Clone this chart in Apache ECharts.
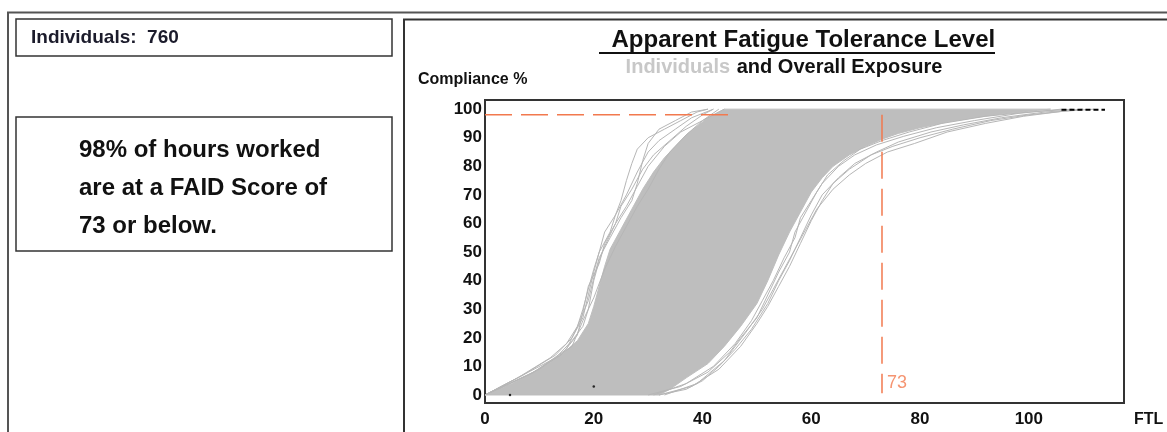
<!DOCTYPE html>
<html><head><meta charset="utf-8">
<script src="https://cdn.jsdelivr.net/npm/echarts@6/dist/echarts.min.js"></script>
<style>html,body{margin:0;padding:0;background:#fff}#c{width:1167px;height:432px}</style>
</head><body><div id="c"></div>
<script>
// ---- data ----
const xTicks = [0, 20, 40, 60, 80, 100];
const yTicks = [0, 10, 20, 30, 40, 50, 60, 70, 80, 90, 100];
const individualsCount = 760;
const ftlScore = 73;
const compliancePct = 98;

// dense envelope of the individual curves: left (upper) edge, bottom -> top
const denseLeftEdge = [[0,0],[5,4],[10,9],[14,14],[17,19],[19,25],[20,31],[21,38],[22,45],[23,51],[25,58],[27,65],[29,72],[31,78],[33,83],[35,87],[37,91],[39,94],[41,97],[44,100]];
// top edge and right (lower) edge, top -> bottom
const denseRightEdge = [[104,100],[100,99.3],[95,98.3],[90,97],[85,95.5],[80,93.5],[76,91.5],[73,89.5],[70,87],[67,84],[64,80],[62,76],[60,71],[58,64],[56,57],[54,49],[52,40],[50,32],[47,24],[44,17],[41,11],[37,6],[34,2],[32,0]];

// individual outlying curves
const indivL1 = [[0,0],[6,6],[12,13],[15,18],[17,24],[18,30],[19,37],[20,44],[21,50],[23,57],[24,63],[25,68],[26,75],[27,81],[28,86],[30,90],[33,93],[36,96],[39,99],[41,100]];
const indivL2 = [[0,0],[7,7],[13,14],[16,20],[18,27],[19,35],[20,43],[21,50],[22,57],[24,63],[26,70],[28,78],[30,85],[32,89],[35,93],[38,97],[42,100]];
const indivL3 = [[0,0],[8,7],[14,14],[17,21],[18,29],[19,38],[21,46],[22,53],[24,60],[26,66],[28,73],[30,80],[33,87],[36,92],[40,96],[43,100]];
const indivL4 = [[0,0],[9,8],[15,16],[17,24],[19,33],[20,41],[21,48],[23,55],[25,62],[27,68],[28,74],[29,82],[30,88],[32,93],[35,96],[38,99],[41,100]];
const indivL5 = [[0,0],[10,9],[16,17],[18,26],[20,34],[22,44],[24,52],[26,59],[28,66],[30,72],[32,79],[34,85],[37,91],[40,96],[44,100]];
const indivL6 = [[0,0],[8,8],[13,13],[16,19],[18,24],[19,30],[20,40],[21,47],[22,52],[24,60],[25,66],[27,72],[29,79],[31,84],[34,89],[37,94],[40,98],[42,100]];
const indivR1 = [[30,0],[36,3],[41,8],[45,15],[47,20],[50,27],[52,35],[54,43],[56,50],[57,57],[59,64],[61,71],[63,77],[66,82],[69,86],[73,89],[78,92],[84,95],[92,97.5],[100,99],[108,100]];
const indivR2 = [[31,0],[37,4],[42,10],[46,18],[49,26],[51,33],[53,40],[55,48],[57,55],[58,62],[60,68],[62,74],[65,80],[68,84],[72,87.5],[77,90.5],[83,93.5],[90,96],[98,98.5],[106,100]];
const indivR3 = [[32,0],[38,3],[43,9],[47,17],[50,25],[52,31],[54,38],[56,45],[58,53],[60,61],[62,68],[64,74],[67,79],[71,84],[75,87],[80,90],[86,93],[93,96],[100,98],[108,99.6]];
const indivR4 = [[33,0],[39,4],[44,12],[48,22],[51,30],[53,37],[55,44],[57,51],[59,58],[61,65],[64,72],[67,77],[70,81],[74,85],[79,88],[85,92],[92,95],[99,97.5],[106,99.2],[112,100]];
const indivR5 = [[32,0],[37,2],[40,5],[43,10],[46,16],[49,23],[52,32],[54,40],[56,47],[58,55],[60,63],[62,70],[65,76],[68,81],[72,85],[76,88.5],[82,92],[88,94.5],[95,97],[103,99],[110,100]];

// overall exposure (mostly hidden) and stray points
const overallVisible = [[106,99.8],[114,99.8]];
const strayPoints = [[4.6,0],[20,3]];

// reference lines
const refHorizontal = [[0, compliancePct],[45, compliancePct]];
const refVertical = [[ftlScore, compliancePct],[ftlScore, 0.6]];
const refLabelPoint = [[ftlScore, 4.2]];

// ---- chart ----
const FONT = 'Liberation Sans, Arial, sans-serif';
const ORANGE = '#f2794e';
const GRAY = '#bebebe';
const bandPoints = denseLeftEdge.concat(denseRightEdge);

const chart = echarts.init(document.getElementById('c'), null, {renderer: 'canvas'});

function indivSeries(d) {
  return {type: 'line', data: d, showSymbol: false, symbol: 'none', silent: true, z: 3,
    lineStyle: {color: '#b6b6b6', width: 1}, animation: false};
}

const option = {
  animation: false,
  backgroundColor: '#fff',
  grid: {left: 485, top: 100, width: 639, height: 303, show: true, borderColor: '#333', borderWidth: 2, backgroundColor: 'transparent'},
  xAxis: {
    type: 'value', min: 0, max: 117.5,
    axisLine: {show: false}, axisTick: {show: false}, splitLine: {show: false},
    axisLabel: {customValues: xTicks, color: '#111', fontFamily: FONT, fontWeight: 'bold', fontSize: 17, margin: 8}
  },
  yAxis: {
    type: 'value', min: -2.8, max: 103.2,
    axisLine: {show: false}, axisTick: {show: false}, splitLine: {show: false},
    axisLabel: {customValues: yTicks, color: '#111', fontFamily: FONT, fontWeight: 'bold', fontSize: 17, margin: 3}
  },
  series: [
    {
      type: 'custom', data: bandPoints, z: 2, silent: true,
      renderItem: function (params, api) {
        if (params.dataIndex !== 0) return null;
        const pts = bandPoints.map(p => api.coord(p));
        return {type: 'polygon', shape: {points: pts}, style: {fill: GRAY, stroke: GRAY, lineWidth: 1}};
      }
    },
    indivSeries(indivL1), indivSeries(indivL2), indivSeries(indivL3), indivSeries(indivL4), indivSeries(indivL5), indivSeries(indivL6),
    indivSeries(indivR1), indivSeries(indivR2), indivSeries(indivR3), indivSeries(indivR4), indivSeries(indivR5),
    {type: 'line', data: overallVisible, symbol: 'none', z: 4, lineStyle: {color: '#000', width: 2, type: [5, 3]}},
    {type: 'scatter', data: strayPoints, symbolSize: 2.5, z: 4, itemStyle: {color: '#000'}},
    {type: 'line', data: refHorizontal, symbol: 'none', z: 5, lineStyle: {color: ORANGE, width: 1.5, type: [27, 9]}},
    {type: 'line', data: refVertical, symbol: 'none', z: 5, lineStyle: {color: ORANGE, width: 1.5, type: [27, 10]}},
    {type: 'scatter', data: refLabelPoint, symbolSize: 0, z: 6,
      label: {show: true, position: 'right', distance: 5, formatter: String(ftlScore), color: ORANGE, fontFamily: FONT, fontSize: 18}}
  ],
  graphic: [
    {type: 'polyline', shape: {points: [[8, 432], [8, 12.5], [1167, 12.5]]}, style: {stroke: '#555', lineWidth: 2, fill: null}, silent: true},
    {type: 'polyline', shape: {points: [[404, 432], [404, 19.5], [1167, 19.5]]}, style: {stroke: '#333', lineWidth: 2, fill: null}, silent: true},
    {type: 'rect', shape: {x: 16, y: 19, width: 376, height: 37}, style: {stroke: '#333', lineWidth: 1.5, fill: null}, silent: true},
    {type: 'rect', shape: {x: 16, y: 117, width: 376, height: 134}, style: {stroke: '#333', lineWidth: 1.5, fill: null}, silent: true},
    {type: 'text', x: 31, y: 38, style: {text: 'Individuals:  ' + individualsCount, font: 'bold 19px ' + FONT, fill: '#1b1b2b', verticalAlign: 'middle'}, silent: true},
    {type: 'text', x: 79, y: 131, style: {text: compliancePct + '% of hours worked\nare at a FAID Score of\n' + ftlScore + ' or below.', font: 'bold 24px ' + FONT, fill: '#111', lineHeight: 38, verticalAlign: 'top'}, silent: true},
    {type: 'text', x: 800, y: 40, style: {text: ' Apparent Fatigue Tolerance Level', font: 'bold 24px ' + FONT, fill: '#111', align: 'center', verticalAlign: 'middle'}, silent: true},
    {type: 'line', shape: {x1: 599, y1: 53, x2: 995, y2: 53}, style: {stroke: '#111', lineWidth: 2}, silent: true},
    {type: 'text', x: 784, y: 67, style: {
      text: '{g|Individuals}  {b|and Overall Exposure}', align: 'center', verticalAlign: 'middle',
      rich: {g: {fill: '#c8c8c8', font: 'bold 20px ' + FONT}, b: {fill: '#111', font: 'bold 20px ' + FONT}}
    }, silent: true},
    {type: 'text', x: 418, y: 80, style: {text: 'Compliance %', font: 'bold 16px ' + FONT, fill: '#111', verticalAlign: 'middle'}, silent: true},
    {type: 'text', x: 1134, y: 420, style: {text: 'FTL', font: 'bold 16px ' + FONT, fill: '#111', verticalAlign: 'middle'}, silent: true}
  ]
};
chart.setOption(option);
</script>
</body></html>
